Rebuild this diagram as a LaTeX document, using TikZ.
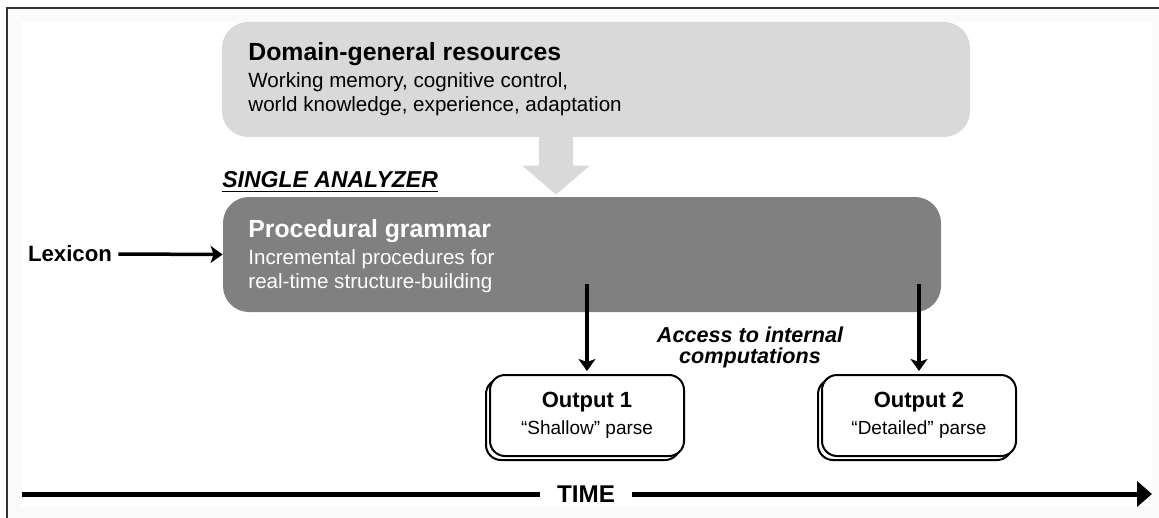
\documentclass[tikz,border=0pt]{standalone}
\usepackage{fontspec}
\setmainfont{Liberation Sans}
\usetikzlibrary{arrows.meta, shadows, calc}

\newcommand{\boxheadfont}{\fontsize{12.4}{14}\selectfont\bfseries}
\newcommand{\boxbodyfont}{\fontsize{10.3}{12}\selectfont}
\newcommand{\sidefont}{\fontsize{11.1}{13}\selectfont\bfseries}
\newcommand{\analyzerfont}{\fontsize{11.5}{13}\selectfont\bfseries\itshape}
\newcommand{\accessfont}{\fontsize{10.8}{10.5}\selectfont\bfseries\itshape}
\newcommand{\timefont}{\fontsize{12.1}{14}\selectfont\bfseries}

\begin{document}
\begin{tikzpicture}[x=0.5pt, y=-0.5pt]
    % Styles
    \tikzstyle{resbox} = [rectangle, rounded corners=13pt, fill=black!15, minimum width=374pt, minimum height=57.5pt]
    \tikzstyle{grammarbox} = [rectangle, rounded corners=13pt, fill=black!50, minimum width=359pt, minimum height=57.5pt]
    \tikzstyle{outbox} = [rectangle, rounded corners=7.5pt, draw=black, line width=1pt, fill=white, minimum width=97pt, minimum height=40.5pt, align=center, font=\fontsize{9.5}{13.5}\selectfont, copy shadow={shadow xshift=-2pt, shadow yshift=-2pt, draw=black, line width=1pt, fill=white}]
    \tikzstyle{txt} = [anchor=base west, inner sep=0pt]
    \tikzstyle{arrow} = [-{Stealth[length=6pt, width=8.5pt, inset=1.5pt]}, line width=1.75pt]
    \tikzstyle{bigarrow} = [-{Triangle[length=14.5pt, width=33pt]}, line width=17pt, draw=black!15, shorten >=1pt]
    \tikzstyle{timeline} = [line width=2.5pt]

    \useasboundingbox (0,0) rectangle (1159,518);
    % Frame
    \fill[black!2] (7,8) rectangle (1159,518);
    \fill[white] (21,22) rectangle (1152,507);
    \draw[black!80, line width=0.8pt] (7,518) -- (7,8) -- (1159,8);

    % Boxes
    \node[resbox] (dom) at (596,79.5) {};
    \node[grammarbox] (proc) at (582,254.5) {};
    \node[outbox] (out1) at (587,415.5) {{\bfseries\fontsize{11}{13.5}\selectfont Output 1}\\“Shallow” parse};
    \node[outbox] (out2) at (919,415.5) {{\bfseries\fontsize{11}{13.5}\selectfont Output 2}\\“Detailed” parse};

    % Box texts
    \node[txt, font=\boxheadfont] (domhead) at (248,61) {Domain-general resources};
    \node[txt, font=\boxbodyfont] (domline1) at (248,88) {Working memory, cognitive control,};
    \node[txt, font=\boxbodyfont] (domline2) at (248,112) {world knowledge, experience, adaptation};
    \node[txt, font=\boxheadfont, text=white] (prochead) at (248,237) {Procedural grammar};
    \node[txt, font=\boxbodyfont, text=white] (procline1) at (248,264) {Incremental procedures for};
    \node[txt, font=\boxbodyfont, text=white] (procline2) at (248,288) {real-time structure-building};

    % Labels
    \node[txt, font=\analyzerfont] (single) at (222,188) {\underline{SINGLE ANALYZER}};
    \node[font=\sidefont, inner sep=3pt] (lex) at (70,254) {Lexicon};
    \node[font=\accessfont, align=center] (access) at (750,347) {Access to internal\\computations};

    % Arrows
    \coordinate (gx) at (556,0);
    \draw[bigarrow] (dom.south -| gx) -- (proc.north -| gx);
    \draw[arrow] (lex.east) -- (proc.west);
    \draw[arrow, shorten >=1.5pt] ($(proc.south -| out1.north)+(0,-28)$) -- (out1.north);
    \draw[arrow, shorten >=1.5pt] ($(proc.south -| out2.north)+(0,-28)$) -- (out2.north);

    % Time axis
    \coordinate (tstart) at (22,494);
    \coordinate (tend) at (1152,494);
    \node[font=\timefont, inner xsep=8.5pt] (time) at (586,494) {TIME};
    \draw[timeline] (tstart) -- (time.west);
    \draw[timeline, -{Triangle[length=7.5pt, width=12.5pt]}] (time.east) -- (tend);
\end{tikzpicture}
\end{document}
